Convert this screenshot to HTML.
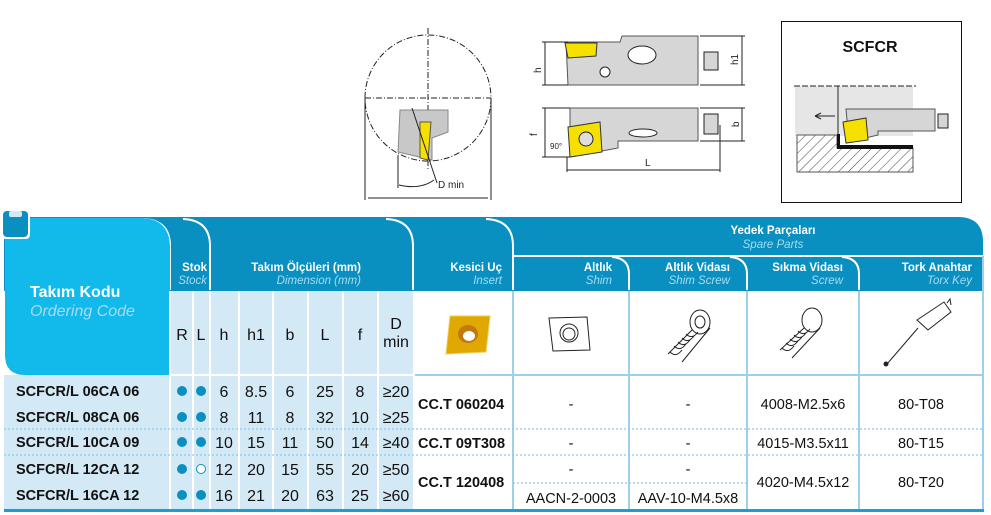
<!DOCTYPE html>
<html><head><meta charset="utf-8"><style>
html,body{margin:0;padding:0;background:#fff;}
svg{display:block;font-family:"Liberation Sans",sans-serif;}
.hb{font-weight:bold;fill:#fff;font-size:11.5px;}
.hi{font-style:italic;fill:#a6dcf2;font-size:11.5px;}
.cd{font-weight:bold;font-size:14.5px;fill:#111;}
.n{font-size:16px;fill:#111;text-anchor:middle;}
.v{font-size:14.5px;fill:#111;text-anchor:middle;}
.ins{font-weight:bold;font-size:14.5px;fill:#111;}
</style></head><body>
<svg width="991" height="515" viewBox="0 0 991 515" xmlns="http://www.w3.org/2000/svg">
<defs>
 <pattern id="hatch" width="7" height="7" patternUnits="userSpaceOnUse" patternTransform="rotate(45)">
  <rect width="7" height="7" fill="#fff"/><line x1="0" y1="0" x2="0" y2="7" stroke="#444" stroke-width="1"/>
 </pattern>
</defs>
<!-- ===== Drawings ===== -->
<g stroke="#222" fill="none" stroke-width="1">
 <circle cx="428" cy="98" r="63" stroke-dasharray="6,2,1,2"/>
 <line x1="365" y1="98" x2="491" y2="98" stroke-dasharray="6,2,1,2"/>
 <line x1="428" y1="28" x2="428" y2="170" stroke-dasharray="6,2,1,2"/>
 <path d="M400 110 L448 110 L448 132 L432 138 L432 160 L398 152 Z" fill="#c8c8c8" stroke="#888"/>
 <path d="M420 122 L431 122 L428 160 L420 158 Z" fill="#f5e000" stroke="#555"/>
 <line x1="412" y1="108" x2="437" y2="183"/>
 <line x1="365" y1="98" x2="365" y2="200"/>
 <line x1="491" y1="98" x2="491" y2="200"/>
 <line x1="368" y1="198" x2="488" y2="198"/>
 <line x1="398" y1="155" x2="398" y2="188"/>
 <path d="M399 185 Q420 190 434 180"/>
 <!-- side views -->
 <path d="M566 42 L620 42 L622 36 L698 36 L698 85 L568 85 Z" fill="#d6d6d6" stroke="#555"/>
 <path d="M565 43 L597 43 L596 56 L568 58 Z" fill="#f5e000" stroke="#333"/>
 <ellipse cx="642" cy="55" rx="14" ry="9" fill="#fff"/>
 <circle cx="605" cy="72" r="5" fill="#fff"/>
 <rect x="704" y="52" width="14" height="18" fill="#d6d6d6"/>
 <line x1="542" y1="42" x2="568" y2="42"/><line x1="542" y1="85" x2="568" y2="85"/>
 <line x1="545" y1="42" x2="545" y2="85"/>
 <line x1="700" y1="36" x2="745" y2="36"/><line x1="700" y1="85" x2="745" y2="85"/>
 <line x1="742" y1="36" x2="742" y2="85"/>
 <path d="M570 108 L698 108 L698 141 L618 141 L618 148 L570 157 Z" fill="#d6d6d6" stroke="#555"/>
 <path d="M568 127 L600 122 L602 152 L570 157 Z" fill="#f5e000" stroke="#333"/>
 <circle cx="586" cy="139" r="7" fill="#ddd"/>
 <ellipse cx="643" cy="133" rx="14" ry="4" fill="#fff"/>
 <rect x="704" y="114" width="14" height="20" fill="#d6d6d6"/>
 <line x1="542" y1="108" x2="570" y2="108"/><line x1="542" y1="157" x2="570" y2="157"/>
 <line x1="545" y1="108" x2="545" y2="157"/>
 <line x1="700" y1="108" x2="745" y2="108"/><line x1="700" y1="141" x2="745" y2="141"/>
 <line x1="742" y1="108" x2="742" y2="141"/>
 <line x1="567" y1="170" x2="720" y2="170"/>
 <line x1="720" y1="125" x2="720" y2="172"/><line x1="567" y1="157" x2="567" y2="172"/>
 <!-- SCFCR box -->
 <rect x="781.5" y="21.5" width="180" height="181" stroke="#111"/>
 <rect x="795" y="86" width="118" height="50" fill="#e6e6e6" stroke="none"/>
 <line x1="794" y1="86" x2="916" y2="86" stroke-dasharray="6,2"/>
 <path d="M797 135 L837 135 L837 148 L913 148 L913 172 L797 172 Z" fill="url(#hatch)" stroke="#555"/>
 <path d="M837 134 L840 134 L840 145 L913 145 L913 149 L837 149 Z" fill="#111" stroke="none"/>
 <line x1="838" y1="86" x2="838" y2="135"/>
 <path d="M846 109 L935 109 L935 131 L878 131 L878 135 L849 142 Z" fill="#d6d6d6" stroke="#555"/>
 <path d="M843 122 L866 118 L868 140 L846 143 Z" fill="#f5e000" stroke="#333"/>
 <rect x="938" y="114" width="10" height="14" fill="#d6d6d6"/>
 <line x1="815" y1="116" x2="835" y2="116"/>
 <path d="M815 116 L821 113 M815 116 L821 119"/>
</g>
<text x="870" y="52" text-anchor="middle" font-weight="bold" font-size="16" fill="#111">SCFCR</text>
<g font-size="10" fill="#222">
 <text x="438" y="188">D min</text>
 <text x="530" y="70" transform="rotate(-90 537 66)">h</text>
 <text x="731" y="66" transform="rotate(-90 734 62)">h1</text>
 <text x="534" y="133" transform="rotate(-90 537 133)">f</text>
 <text x="734" y="126" transform="rotate(-90 737 124)">b</text>
 <text x="645" y="166">L</text>
 <text x="550" y="149" font-size="8">90°</text>
</g>

<!-- ===== Table header ===== -->
<path d="M4 217 L958 217 Q983 217 983 242 L983 291 L4 291 Z" fill="#0a8fc1"/>
<g stroke="#fff" stroke-width="2" fill="none">
 <path d="M170 290 L170 246 Q170 220 143 219"/>
 <path d="M210 290 L210 246 Q210 220 183 219"/>
 <path d="M413 290 L413 246 Q413 220 386 219"/>
 <path d="M513 290 L513 246 Q513 220 486 219"/>
 <line x1="513" y1="256" x2="983" y2="256"/>
 <path d="M629 290 L629 274 Q629 258 612 257"/>
 <path d="M747 290 L747 274 Q747 258 730 257"/>
 <path d="M859 290 L859 274 Q859 258 842 257"/>
</g>
<rect x="170" y="291" width="243" height="219" fill="#d3e9f6"/>
<rect x="4" y="375" width="170" height="135" fill="#d3e9f6"/>
<rect x="413" y="291" width="570" height="219" fill="#fff"/>
<!-- cyan panel -->
<path d="M5 218 L140 218 Q170 218 170 248 L170 375 L25 375 Q5 375 5 355 Z" fill="#12b9eb"/>
<!-- corner icon -->
<rect x="1" y="209" width="29" height="30" rx="4" fill="#fff"/>
<rect x="3" y="211" width="25" height="26" rx="4" fill="#0a8fc1"/>
<rect x="9" y="211" width="13" height="6" rx="2" fill="#d3e9f6"/>
<!-- header texts -->
<text x="30" y="297" font-weight="bold" font-size="16" fill="#fff">Takım Kodu</text>
<text x="30" y="316" font-style="italic" font-size="16" fill="#a6dcf2">Ordering Code</text>
<text x="207" y="271" text-anchor="end" class="hb">Stok</text>
<text x="207" y="284" text-anchor="end" class="hi">Stock</text>
<text x="361" y="271" text-anchor="end" class="hb">Takım Ölçüleri (mm)</text>
<text x="361" y="284" text-anchor="end" class="hi">Dimension (mm)</text>
<text x="502" y="271" text-anchor="end" class="hb">Kesici Uç</text>
<text x="502" y="284" text-anchor="end" class="hi">Insert</text>
<text x="773" y="234" text-anchor="middle" class="hb">Yedek Parçaları</text>
<text x="773" y="248" text-anchor="middle" class="hi">Spare Parts</text>
<text x="612" y="271" text-anchor="end" class="hb" font-size="10.5">Altlık</text>
<text x="612" y="284" text-anchor="end" class="hi" font-size="10.5">Shim</text>
<text x="730" y="271" text-anchor="end" class="hb" font-size="10.5">Altlık Vidası</text>
<text x="730" y="284" text-anchor="end" class="hi" font-size="10.5">Shim Screw</text>
<text x="843" y="271" text-anchor="end" class="hb" font-size="10.5">Sıkma Vidası</text>
<text x="843" y="284" text-anchor="end" class="hi" font-size="10.5">Screw</text>
<text x="972" y="271" text-anchor="end" class="hb" font-size="10.5">Tork Anahtar</text>
<text x="972" y="284" text-anchor="end" class="hi" font-size="10.5">Torx Key</text>
<!-- column letters -->
<g>
 <text class="n" x="182" y="340">R</text><text class="n" x="201" y="340">L</text>
 <text class="n" x="224" y="340">h</text><text class="n" x="256" y="340">h1</text>
 <text class="n" x="290" y="340">b</text><text class="n" x="325" y="340">L</text>
 <text class="n" x="360" y="340">f</text>
 <text class="n" x="396" y="329">D</text><text class="n" x="396" y="347">min</text>
</g>
<g stroke="#fff" stroke-width="2">
 <line x1="193" y1="291" x2="193" y2="510"/><line x1="210" y1="291" x2="210" y2="510"/>
 <line x1="239" y1="291" x2="239" y2="510"/><line x1="273" y1="291" x2="273" y2="510"/>
 <line x1="308" y1="291" x2="308" y2="510"/><line x1="343" y1="291" x2="343" y2="510"/>
 <line x1="378" y1="291" x2="378" y2="510"/><line x1="170" y1="291" x2="170" y2="510"/>
 <line x1="170" y1="375" x2="413" y2="375"/>
</g>
<g stroke="#9fd0ea" stroke-width="2">
 <line x1="513" y1="291" x2="513" y2="510"/><line x1="629" y1="291" x2="629" y2="510"/>
 <line x1="747" y1="291" x2="747" y2="510"/><line x1="859" y1="291" x2="859" y2="510"/>
 <line x1="983" y1="256" x2="983" y2="510"/>
 <line x1="415" y1="375" x2="983" y2="375"/>
</g>
<g stroke="#8ccbe8" stroke-width="1.3" stroke-dasharray="2,2">
 <line x1="4" y1="429" x2="983" y2="429"/><line x1="4" y1="455" x2="983" y2="455"/>
 <line x1="513" y1="483" x2="747" y2="483"/>
</g>
<rect x="4" y="509" width="980" height="3" fill="#1a9fd4"/>
<!-- insert image -->
<path d="M450 316 L490 316 L486 352 L446 354 Z" fill="#e0a800" stroke="#f0cc50"/>
<ellipse cx="468" cy="334" rx="10" ry="9" fill="#c07a10"/><ellipse cx="469" cy="336" rx="6" ry="5" fill="#fff"/>
<!-- spare icons -->
<g stroke="#222" fill="none" stroke-width="1">
 <path d="M549 318 L587 317 L590 350 L553 351 Z"/>
 <circle cx="569" cy="333" r="9"/><circle cx="569" cy="334" r="6"/>
 <ellipse cx="700" cy="322" rx="10" ry="12"/><ellipse cx="700" cy="322" rx="5" ry="6"/>
 <path d="M692 330 L668 354 M710 328 L682 362"/>
 <path d="M670 352 q6 6 12 -2 M674 346 q6 6 12 -2 M678 342 q6 6 12 -2 M682 338 q6 6 12 -2 M686 334 q6 6 12 -2"/>
 <ellipse cx="812" cy="320" rx="10" ry="12"/>
 <path d="M804 328 L780 350 M820 328 L792 358"/>
 <path d="M782 348 q6 6 12 -2 M786 343 q6 6 12 -2 M790 339 q6 6 12 -2 M794 335 q6 6 12 -2 M798 331 q6 6 12 -2"/>
 <path d="M917 320 L944 302 L951 312 L928 330 Z M947 303 L950 299 L951 305"/>
 <line x1="918" y1="328" x2="887" y2="364"/><circle cx="886" cy="364" r="2" fill="#222"/>
</g>
<!-- data -->
<text class="cd" x="16" y="396">SCFCR/L 06CA 06</text>
<text class="cd" x="16" y="422">SCFCR/L 08CA 06</text>
<text class="cd" x="16" y="447">SCFCR/L 10CA 09</text>
<text class="cd" x="16" y="474">SCFCR/L 12CA 12</text>
<text class="cd" x="16" y="500">SCFCR/L 16CA 12</text>
<g fill="#0a8fc1">
 <circle cx="182" cy="391" r="5"/><circle cx="201" cy="391" r="5"/>
 <circle cx="182" cy="417" r="5"/><circle cx="201" cy="417" r="5"/>
 <circle cx="182" cy="442" r="5"/><circle cx="201" cy="442" r="5"/>
 <circle cx="182" cy="469" r="5"/><circle cx="201" cy="469" r="4.5" fill="#fff" stroke="#0a8fc1" stroke-width="1"/>
 <circle cx="182" cy="495" r="5"/><circle cx="201" cy="495" r="5"/>
</g>
<g>
 <text class="n" x="224" y="397">6</text><text class="n" x="256" y="397">8.5</text><text class="n" x="290" y="397">6</text><text class="n" x="325" y="397">25</text><text class="n" x="360" y="397">8</text><text class="n" x="396" y="397" font-size="14">≥20</text>
 <text class="n" x="224" y="423">8</text><text class="n" x="256" y="423">11</text><text class="n" x="290" y="423">8</text><text class="n" x="325" y="423">32</text><text class="n" x="360" y="423">10</text><text class="n" x="396" y="423" font-size="14">≥25</text>
 <text class="n" x="224" y="448">10</text><text class="n" x="256" y="448">15</text><text class="n" x="290" y="448">11</text><text class="n" x="325" y="448">50</text><text class="n" x="360" y="448">14</text><text class="n" x="396" y="448" font-size="14">≥40</text>
 <text class="n" x="224" y="475">12</text><text class="n" x="256" y="475">20</text><text class="n" x="290" y="475">15</text><text class="n" x="325" y="475">55</text><text class="n" x="360" y="475">20</text><text class="n" x="396" y="475" font-size="14">≥50</text>
 <text class="n" x="224" y="501">16</text><text class="n" x="256" y="501">21</text><text class="n" x="290" y="501">20</text><text class="n" x="325" y="501">63</text><text class="n" x="360" y="501">25</text><text class="n" x="396" y="501" font-size="14">≥60</text>
</g>
<text class="ins" x="418" y="409">CC.T 060204</text>
<text class="ins" x="418" y="448">CC.T 09T308</text>
<text class="ins" x="418" y="487">CC.T 120408</text>
<g>
 <text class="v" x="571" y="409">-</text><text class="v" x="688" y="409">-</text>
 <text class="v" x="803" y="409">4008-M2.5x6</text><text class="v" x="921" y="409">80-T08</text>
 <text class="v" x="571" y="448">-</text><text class="v" x="688" y="448">-</text>
 <text class="v" x="803" y="448">4015-M3.5x11</text><text class="v" x="921" y="448">80-T15</text>
 <text class="v" x="571" y="474">-</text><text class="v" x="688" y="474">-</text>
 <text class="v" x="803" y="487">4020-M4.5x12</text><text class="v" x="921" y="487">80-T20</text>
 <text class="v" x="571" y="503" font-size="13.5">AACN-2-0003</text><text class="v" x="688" y="503" font-size="13.5">AAV-10-M4.5x8</text>
</g>
</svg>
</body></html>
